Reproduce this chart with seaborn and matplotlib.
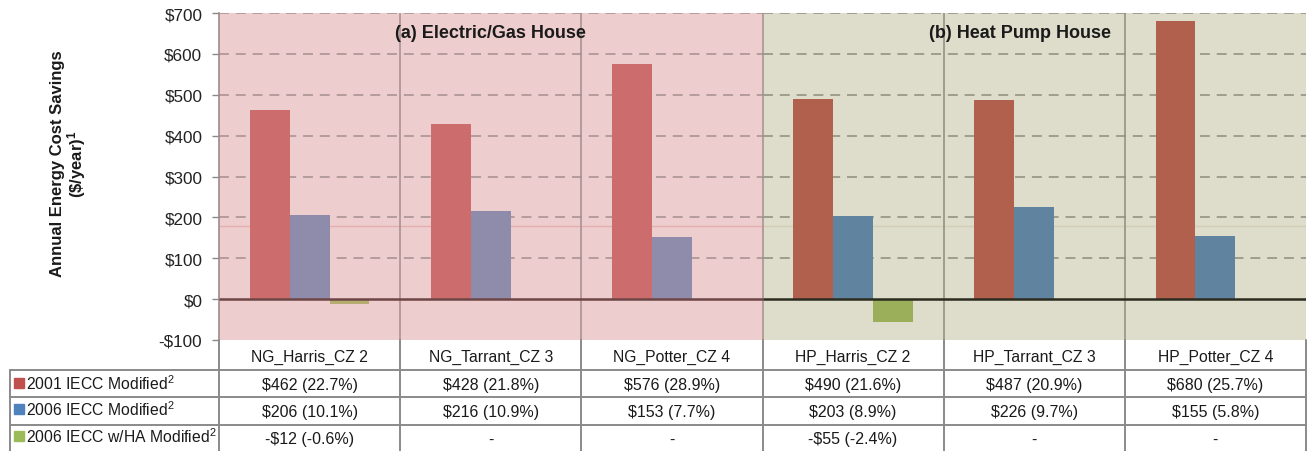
import numpy as np
import pandas as pd
import matplotlib
matplotlib.use("Agg")
import matplotlib.pyplot as plt
import seaborn as sns

# ---------------- data ----------------
categories = ["NG_Harris_CZ 2", "NG_Tarrant_CZ 3", "NG_Potter_CZ 4",
              "HP_Harris_CZ 2", "HP_Tarrant_CZ 3", "HP_Potter_CZ 4"]
panels = ["NG", "NG", "NG", "HP", "HP", "HP"]
series = ["2001 IECC Modified", "2006 IECC Modified", "2006 IECC w/HA Modified"]
savings_2001 = [462, 428, 576, 490, 487, 680]
pct_2001 = [22.7, 21.8, 28.9, 21.6, 20.9, 25.7]
savings_2006 = [206, 216, 153, 203, 226, 155]
pct_2006 = [10.1, 10.9, 7.7, 8.9, 9.7, 5.8]
savings_ha = [-12, None, None, -55, None, None]
pct_ha = [-0.6, None, None, -2.4, None, None]
panel_titles = ["(a) Electric/Gas House", "(b) Heat Pump House"]
yticks = [-100, 0, 100, 200, 300, 400, 500, 600, 700]
artifact_level = 180

all_vals = [savings_2001, savings_2006, savings_ha]
all_pcts = [pct_2001, pct_2006, pct_ha]

rows = []
for s, vals in zip(series, all_vals):
    for c, p, v in zip(categories, panels, vals):
        if v is not None:
            rows.append({"category": c, "panel": p, "series": s, "value": v})
df = pd.DataFrame(rows)

# ---------------- style ----------------
sns.set_style("white")
plt.rcParams["font.family"] = ["Liberation Sans", "DejaVu Sans"]
plt.rcParams["mathtext.default"] = "regular"

W, H = 1307, 452
fig = plt.figure(figsize=(W / 100, H / 100), dpi=100)
fig.patch.set_facecolor("white")

ax_left, ax_right, ax_top, ax_bot = 219, 1306, 14, 341
ax = fig.add_axes([ax_left / W, 1 - ax_bot / H, (ax_right - ax_left) / W, (ax_bot - ax_top) / H])
ax.set_facecolor("none")

pal_ng = ["#CD6C6C", "#8E8BAB", "#B5AD6F"]
pal_hp = ["#B2604E", "#6084A0", "#9BAF5A"]
legend_colors = ["#C0504D", "#4F81BD", "#9BBB59"]
bg_ng, bg_hp = "#EDCDCD", "#DEDCCB"

# backgrounds
ax.axvspan(-0.5, 2.5, color=bg_ng, zorder=0, lw=0)
ax.axvspan(2.5, 5.5, color=bg_hp, zorder=0, lw=0)

# grid
for y in yticks:
    if y > 0:
        ax.hlines(y, -0.5, 2.5, color="#A58F8F", lw=1.1, ls=(0, (6.5, 4.5)), zorder=1)
        ax.hlines(y, 2.5, 5.5, color="#8E8C7E", lw=1.1, ls=(0, (6.5, 4.5)), zorder=1)
# faint artifact line
ax.hlines(artifact_level, -0.5, 2.5, color="#E6AFAF", lw=1, zorder=1.2)
ax.hlines(artifact_level, 2.5, 5.5, color="#D3CFB4", lw=1, zorder=1.2)

# bars
for pan, pal in [("NG", pal_ng), ("HP", pal_hp)]:
    sns.barplot(data=df[df.panel == pan], x="category", y="value", hue="series",
                order=categories, hue_order=series, palette=pal, width=0.66,
                saturation=1, errorbar=None, legend=False, ax=ax, zorder=2,
                linewidth=0)

# zero line
ax.hlines(0, -0.5, 2.5, color="#6E4646", lw=1.8, zorder=3)
ax.hlines(0, 2.5, 5.5, color="#2B2B20", lw=1.8, zorder=3)

# dividers
for x in [0.5, 1.5, 2.5]:
    ax.axvline(x, color="#A48E8E", lw=1.1, zorder=1.5)
for x in [3.5, 4.5]:
    ax.axvline(x, color="#8E8C7E", lw=1.1, zorder=1.5)

ax.set_xlim(-0.5, 5.5)
ax.set_ylim(-100, 700)
ax.set_yticks(yticks)
ax.set_yticklabels([("-$%d" % -v) if v < 0 else ("$%d" % v) for v in yticks],
                   fontsize=12.3, color="#222222")
ax.tick_params(axis="y", length=5, width=1, color="#8a8a8a", pad=7, left=True)
ax.set_xticks([])
ax.set_xlabel("")
ax.set_ylabel("")
for s in ["top", "right", "bottom"]:
    ax.spines[s].set_visible(False)
ax.spines["left"].set_color("#9E8A8A")
ax.spines["left"].set_linewidth(1.2)

# panel titles
ax.text(1.0, 653, panel_titles[0], ha="center", va="center", fontsize=13,
        fontweight="bold", color="#1a1a1a", zorder=4)
ax.text(3.92, 653, panel_titles[1], ha="center", va="center", fontsize=13,
        fontweight="bold", color="#1a1a1a", zorder=4)

# y label
fig.text(69 / W, 1 - 164 / H, "Annual Energy Cost Savings\n(\\$/year)$^{1}$",
         rotation=90, ha="center", va="center", fontsize=12, fontweight="bold",
         color="#1a1a1a", linespacing=1.0)

# ---------------- table ----------------
tax = fig.add_axes([ax_left / W, 0, (ax_right - ax_left) / W, (H - ax_bot) / H])
tax.set_xlim(-0.5, 5.5)
tax.set_ylim(H, ax_bot)
tax.axis("off")
cat_w = (ax_right - ax_left) / 6.0


def px2x(px):
    return -0.5 + (px - ax_left) / cat_w


line_c = "#8A8A8A"
left_px = 10
row_lines = [371, 398, 426]
for y in row_lines:
    tax.plot([px2x(left_px), 5.5], [y, y], color=line_c, lw=1.4, clip_on=False)
tax.plot([px2x(left_px)] * 2, [row_lines[0], H], color=line_c, lw=1.4, clip_on=False)
for i in range(7):
    tax.plot([i - 0.5] * 2, [ax_bot, H], color=line_c, lw=1.4, clip_on=False)

# header row
for i, c in enumerate(categories):
    tax.text(i, 357, c, ha="center", va="center", fontsize=11.3, color="#1a1a1a")

row_text_y = [386, 413, 440]
legend_text_y = [384, 410, 437]
for r, (s, vals, pcts) in enumerate(zip(series, all_vals, all_pcts)):
    tax.plot([px2x(19)], [legend_text_y[r]], marker="s", ms=6.5, color=legend_colors[r],
             clip_on=False, lw=0)
    tax.text(px2x(26), legend_text_y[r], s + "$^{2}$", ha="left", va="center",
             fontsize=11.3, color="#1a1a1a", clip_on=False)
    for i, (v, p) in enumerate(zip(vals, pcts)):
        if v is None:
            txt = "-"
        elif v < 0:
            txt = "-$%d (%.1f%%)" % (-v, p)
        else:
            txt = "$%d (%.1f%%)" % (v, p)
        tax.text(i, row_text_y[r], txt, ha="center", va="center", fontsize=11.5,
                 color="#1a1a1a")

fig.savefig("out.png", dpi=100)
